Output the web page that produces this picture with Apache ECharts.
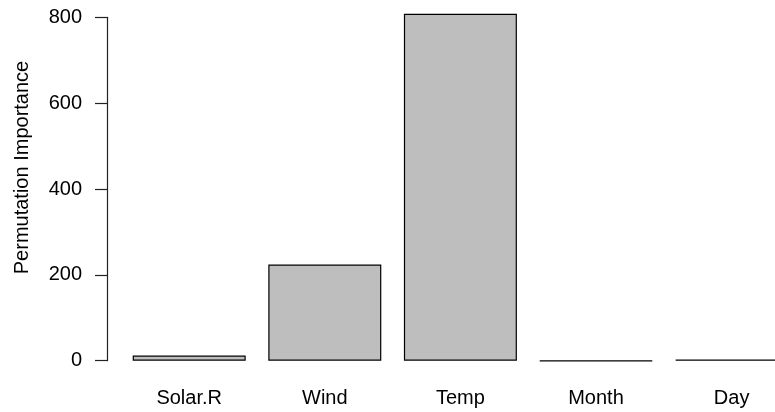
<!DOCTYPE html>
<html>
<head>
<meta charset="utf-8">
<script src="https://cdn.jsdelivr.net/npm/echarts@6/dist/echarts.min.js"></script>
<style>
  html, body { margin: 0; padding: 0; background: #ffffff; }
  #chart { width: 775px; height: 412px; }
</style>
</head>
<body>
<div id="chart"></div>
<script>
// Permutation importance of each predictor
const categories = ['Solar.R', 'Wind', 'Temp', 'Month', 'Day'];
const importance = [12, 224, 808, -1, 2.5];
const yTicks = { min: 0, max: 800, step: 200 };
const yTitle = 'Permutation Importance';

const FONT = "'Liberation Sans', Arial, Helvetica, sans-serif";
const FS = 20;

const chart = echarts.init(document.getElementById('chart'), null, { renderer: 'canvas' });

chart.setOption({
  animation: false,
  backgroundColor: '#ffffff',
  textStyle: { fontFamily: FONT },
  grid: {
    left: 121.4,
    right: -24.4,
    top: 17.3,
    bottom: 51.3,
    containLabel: false,
    outerBoundsMode: 'none'
  },
  xAxis: {
    type: 'category',
    data: categories,
    axisLine: { show: false },
    axisTick: { show: false },
    splitLine: { show: false },
    axisLabel: {
      color: '#000',
      fontFamily: FONT,
      fontSize: FS,
      margin: 28,
      interval: 0,
      hideOverlap: false
    }
  },
  yAxis: {
    type: 'value',
    min: yTicks.min,
    max: yTicks.max,
    interval: yTicks.step,
    offset: 14.4,
    name: yTitle,
    nameLocation: 'middle',
    nameRotate: 90,
    nameGap: 75,
    nameTextStyle: {
      color: '#000',
      fontFamily: FONT,
      fontSize: FS,
      padding: [0, 0, 0, 43]
    },
    axisLine: { show: true, lineStyle: { color: '#222', width: 1.2 } },
    axisTick: { show: true, inside: false, length: 12, lineStyle: { color: '#222', width: 1.2 } },
    splitLine: { show: false },
    axisLabel: {
      color: '#000',
      fontFamily: FONT,
      fontSize: FS,
      margin: 25
    }
  },
  series: [{
    type: 'bar',
    data: importance,
    barCategoryGap: '16.67%',
    clip: false,
    itemStyle: {
      color: '#BEBEBE',
      borderColor: '#000',
      borderWidth: 1.2
    }
  }]
});
</script>
</body>
</html>
